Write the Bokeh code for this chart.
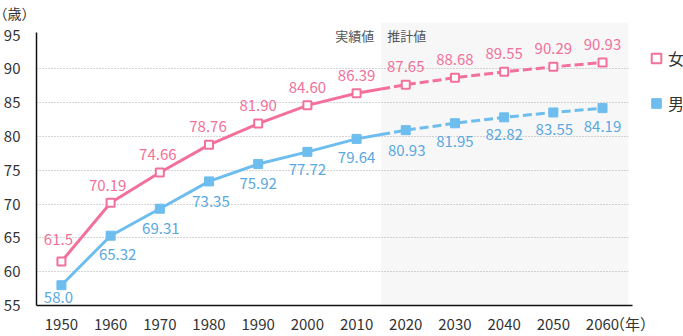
import numpy as np
from bokeh.plotting import figure
from bokeh.models import (BoxAnnotation, Label, Legend, LegendItem, FixedTicker,
                          Range1d, ColumnDataSource, Title)
from bokeh.core.properties import value
from bokeh.embed import file_html
from bokeh.resources import INLINE

years = [1950, 1960, 1970, 1980, 1990, 2000, 2010, 2020, 2030, 2040, 2050, 2060]
female = [61.5, 70.19, 74.66, 78.76, 81.90, 84.60, 86.39, 87.65, 88.68, 89.55, 90.29, 90.93]
male = [58.0, 65.32, 69.31, 73.35, 75.92, 77.72, 79.64, 80.93, 81.95, 82.82, 83.55, 84.19]
female_labels = ["61.5", "70.19", "74.66", "78.76", "81.90", "84.60", "86.39",
                 "87.65", "88.68", "89.55", "90.29", "90.93"]
male_labels = ["58.0", "65.32", "69.31", "73.35", "75.92", "77.72", "79.64",
               "80.93", "81.95", "82.82", "83.55", "84.19"]
y_ticks = [55, 60, 65, 70, 75, 80, 85, 90, 95]
x_ticks = years
series_names = ["女", "男"]
actual_label = "実績値"
projection_label = "推計値"
y_unit = "（歳）"
x_unit = "（年）"
projection_start = 2015

# label offsets in screen pixels (style, not data)
female_dx = [-3, -3, -2, -1, 0, 0, 0, 0, 0, 0, 0, 0]
female_dy = [-22, -17, -18, -18, -18, -18, -18, -18, -18, -18, -18, -18]
male_dx = [-3, 7, 1, 2, 0, 0, 0, 1, 0, 0, 1, 0]
male_dy = [12, 19, 20, 20, 19, 18, 19, 20, 18, 17, 17, 18]

FONT = "Noto Sans CJK JP"
PINK = "#F2709A"
BLUE = "#6DBDEE"
BLUE_TXT = "#5AA8E0"
TXT = "#333333"

W, H = 683, 336
L, T, B = 35, 19, 30
x0, x_end = 1944.93, 2065.3
px_x = (x_end - x0) / (628 - L)
x1 = x0 + (W - L) * px_x
x_unit_pos = round(x0 + (632 - L) * px_x, 1)
y0, y1 = 55.0, 96.85

p = figure(width=W, height=H, output_backend="svg", toolbar_location=None,
           x_range=Range1d(x0, x1), y_range=Range1d(y0, y1),
           min_border_left=L, min_border_right=0, min_border_top=T, min_border_bottom=B)
p.outline_line_color = None
p.background_fill_color = "white"
p.border_fill_color = "white"

# unit label above the y axis
p.add_layout(Title(text=y_unit, align="left", offset=-43, text_font=FONT,
                   text_font_size="14px", text_color=TXT, text_font_style="normal",
                   standoff=0), "above")

# shaded projection area
p.add_layout(BoxAnnotation(left=projection_start, right=x_end, fill_color="#F7F7F7",
                           fill_alpha=1, line_color=None, level="image"))

# grid
p.xgrid.visible = False
p.ygrid.ticker = FixedTicker(ticks=y_ticks[1:-1])
p.ygrid.grid_line_color = "#AAAAAA"
p.ygrid.grid_line_dash = "1 2"
p.ygrid.grid_line_width = 1
# blank out the area right of the plot (legend area)
p.add_layout(BoxAnnotation(left=x_end, fill_color="white", fill_alpha=1,
                           line_color=None, level="underlay"))

# y axis
ya = p.yaxis[0]
ya.ticker = FixedTicker(ticks=y_ticks)
ya.bounds = (y_ticks[0], y_ticks[-1] + 0.35)
ya.major_label_standoff = 10

# x axis with unit as last tick label
xa = p.xaxis[0]
xa.ticker = FixedTicker(ticks=x_ticks + [x_unit_pos])
xa.major_label_overrides = {x_unit_pos: x_unit}
xa.bounds = (x0, x_unit_pos)
xa.major_tick_out = 0
xa.minor_tick_out = 0
xa.major_label_standoff = 7

for ax in (xa, ya):
    ax.major_tick_line_color = None
    ax.minor_tick_line_color = None
    ax.major_label_text_font = FONT
    ax.major_label_text_color = TXT
    ax.major_label_text_font_size = "15px"
    ax.axis_line_color = "#111111"
    ax.axis_line_width = 1.5

# lines: solid actual part, dashed projection part
yrs = np.array(years, dtype=float)
def split(vals):
    v = np.array(vals, dtype=float)
    vb = float(np.interp(projection_start, yrs, v))
    act = yrs <= projection_start
    xs_a = list(yrs[act]) + [projection_start]
    ys_a = list(v[act]) + [vb]
    xs_p = [projection_start] + list(yrs[~act])
    ys_p = [vb] + list(v[~act])
    return xs_a, ys_a, xs_p, ys_p

renderers = []
for vals, col, txtcol, labels, hollow, dx, dy in (
        (female, PINK, PINK, female_labels, True, female_dx, female_dy),
        (male, BLUE, BLUE_TXT, male_labels, False, male_dx, male_dy)):
    xs_a, ys_a, xs_p, ys_p = split(vals)
    p.line(xs_a, ys_a, line_color=col, line_width=3)
    p.line(xs_p, ys_p, line_color=col, line_width=3, line_dash="9 4")
    src = ColumnDataSource(dict(x=years, y=vals, t=labels, dx=dx, dy=dy))
    if hollow:
        r = p.scatter("x", "y", source=src, marker="square", size=8,
                      fill_color="white", line_color=col, line_width=2)
    else:
        r = p.scatter("x", "y", source=src, marker="square", size=9,
                      fill_color=col, line_color=col, line_width=1)
    renderers.append(r)
    p.text("x", "y", text="t", source=src, text_font=value(FONT), text_font_size="15px",
           text_color=txtcol, text_align="center", text_baseline="middle",
           x_offset="dx", y_offset="dy")

# legend
legend = Legend(items=[LegendItem(label=series_names[0], renderers=[renderers[0]]),
                       LegendItem(label=series_names[1], renderers=[renderers[1]])],
                location=(608, 189), orientation="vertical",
                glyph_width=24, glyph_height=26, spacing=19, label_standoff=0,
                padding=0, margin=0, border_line_color=None, background_fill_alpha=0,
                label_text_font=FONT, label_text_font_size="16px", label_text_color=TXT)
p.add_layout(legend)

# text annotations
p.add_layout(Label(x=projection_start, y=95.0, x_offset=-7, text=actual_label,
                   text_align="right", text_baseline="middle", text_font=FONT,
                   text_font_size="13px", text_color="#555555"))
p.add_layout(Label(x=projection_start, y=95.0, x_offset=6, text=projection_label,
                   text_align="left", text_baseline="middle", text_font=FONT,
                   text_font_size="13px", text_color="#555555"))

open("out.html", "w").write(file_html(p, INLINE))
